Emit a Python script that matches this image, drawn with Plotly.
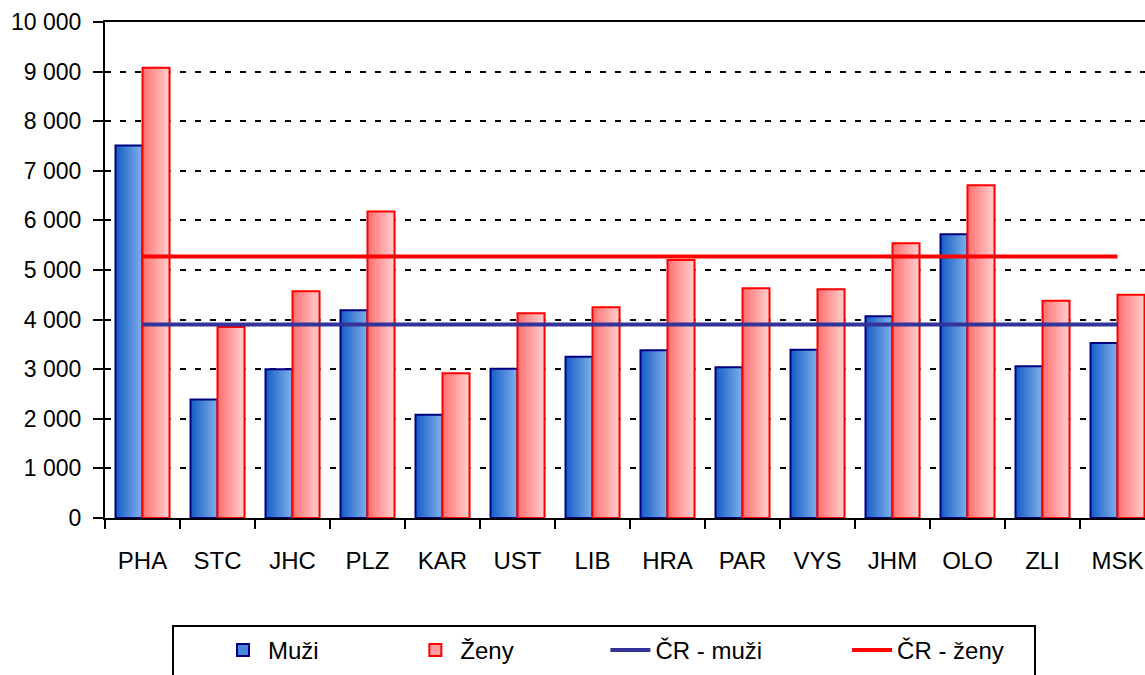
import plotly.graph_objects as go

categories = ["PHA", "STC", "JHC", "PLZ", "KAR", "UST", "LIB", "HRA", "PAR", "VYS", "JHM", "OLO", "ZLI", "MSK"]
muzi = [7510, 2390, 3000, 4190, 2080, 3010, 3250, 3380, 3040, 3390, 4070, 5720, 3060, 3530]
zeny = [9080, 3850, 4570, 6180, 2920, 4130, 4250, 5200, 4630, 4610, 5540, 6710, 4380, 4500]
cr_muzi = 3900
cr_zeny = 5270
y_ticks = [0, 1000, 2000, 3000, 4000, 5000, 6000, 7000, 8000, 9000, 10000]

FONT = "Liberation Sans, Arial, sans-serif"
NB = "\u00a0"

# the plot area runs past the right edge of the 1145px window, as in the reference
W, H = 1155, 675
ML, MT, MB = 105, 22, 157
PW = W - ML
PH = H - MT - MB


def px_x(sx):
    return (sx - ML) / PW


def px_y(sy):
    return (H - MB - sy) / PH


BAR_W = 0.36
N_STRIPS = 16


def lerp(c1, c2, t):
    return "rgb(%d,%d,%d)" % tuple(round(a + (b - a) * t) for a, b in zip(c1, c2))


fig = go.Figure()


def gradient_bars(values, offset, c_left, c_right, edge, name):
    sw = BAR_W / N_STRIPS
    for i in range(N_STRIPS):
        fig.add_trace(go.Bar(
            x=categories, y=values, width=sw * 1.6, offset=offset + i * sw,
            marker=dict(color=lerp(c_left, c_right, i / (N_STRIPS - 1)), line=dict(width=0)),
            showlegend=False, hoverinfo="skip"))
    fig.add_trace(go.Bar(
        x=categories, y=values, width=BAR_W, offset=offset,
        marker=dict(color="rgba(0,0,0,0)", line=dict(color=edge, width=2)),
        showlegend=False, name=name.strip()))
    fig.add_trace(go.Bar(
        x=[categories[0]], y=[None], name=name,
        marker=dict(color=lerp(c_left, c_right, 0.5), line=dict(color=edge, width=2)),
        showlegend=True))


gradient_bars(muzi, -BAR_W, (25, 95, 200), (125, 175, 232), "#000080", "Muži" + NB * 13)
gradient_bars(zeny, 0.0, (255, 115, 115), (255, 205, 205), "#ff0000", "Ženy" + NB * 13)

fig.add_trace(go.Scatter(x=categories, y=[cr_muzi] * len(categories), mode="lines",
                         line=dict(color="#333399", width=4), name="ČR - muži" + NB * 12))
fig.add_trace(go.Scatter(x=categories, y=[cr_zeny] * len(categories), mode="lines",
                         line=dict(color="#ff0000", width=4), name="ČR - ženy"))

# legend frame (bottom edge runs off the page, as in the reference)
fig.add_shape(type="rect", xref="paper", yref="paper",
              x0=px_x(173), x1=px_x(1035), y0=px_y(626), y1=px_y(700),
              line=dict(color="black", width=2), fillcolor="rgba(0,0,0,0)", layer="above")

fig.update_layout(
    width=W, height=H,
    margin=dict(l=ML, r=0, t=MT, b=MB),
    paper_bgcolor="white", plot_bgcolor="white",
    barmode="overlay",
    separators=", ",
    font=dict(family=FONT, size=24, color="black"),
    showlegend=True,
    legend=dict(
        orientation="h", x=px_x(218), xanchor="left", y=px_y(628), yanchor="top",
        borderwidth=0, bgcolor="rgba(0,0,0,0)", font=dict(size=24),
        itemwidth=40, traceorder="normal",
    ),
)

fig.update_xaxes(
    type="category", range=[-0.5, 13.5], automargin=False,
    showline=True, linecolor="black", linewidth=2, mirror=True,
    ticks="outside", ticklen=9, tickwidth=2, tickcolor="black",
    tickson="boundaries", showgrid=False, ticklabelstandoff=20,
    tickfont=dict(size=24),
)
fig.update_yaxes(
    range=[0, 10000], tickvals=y_ticks, tickformat=",d", automargin=False,
    showline=True, linecolor="black", linewidth=2,
    ticks="outside", ticklen=10, tickwidth=2, tickcolor="black",
    showgrid=True, gridcolor="black", gridwidth=2, griddash="6px,9px",
    tickfont=dict(size=23), zeroline=False, ticklabelstandoff=7,
)

fig.write_html(
    "out.html",
    config={"displayModeBar": False},
    post_script="document.body.style.margin='0px';document.body.style.overflow='hidden';",
)
